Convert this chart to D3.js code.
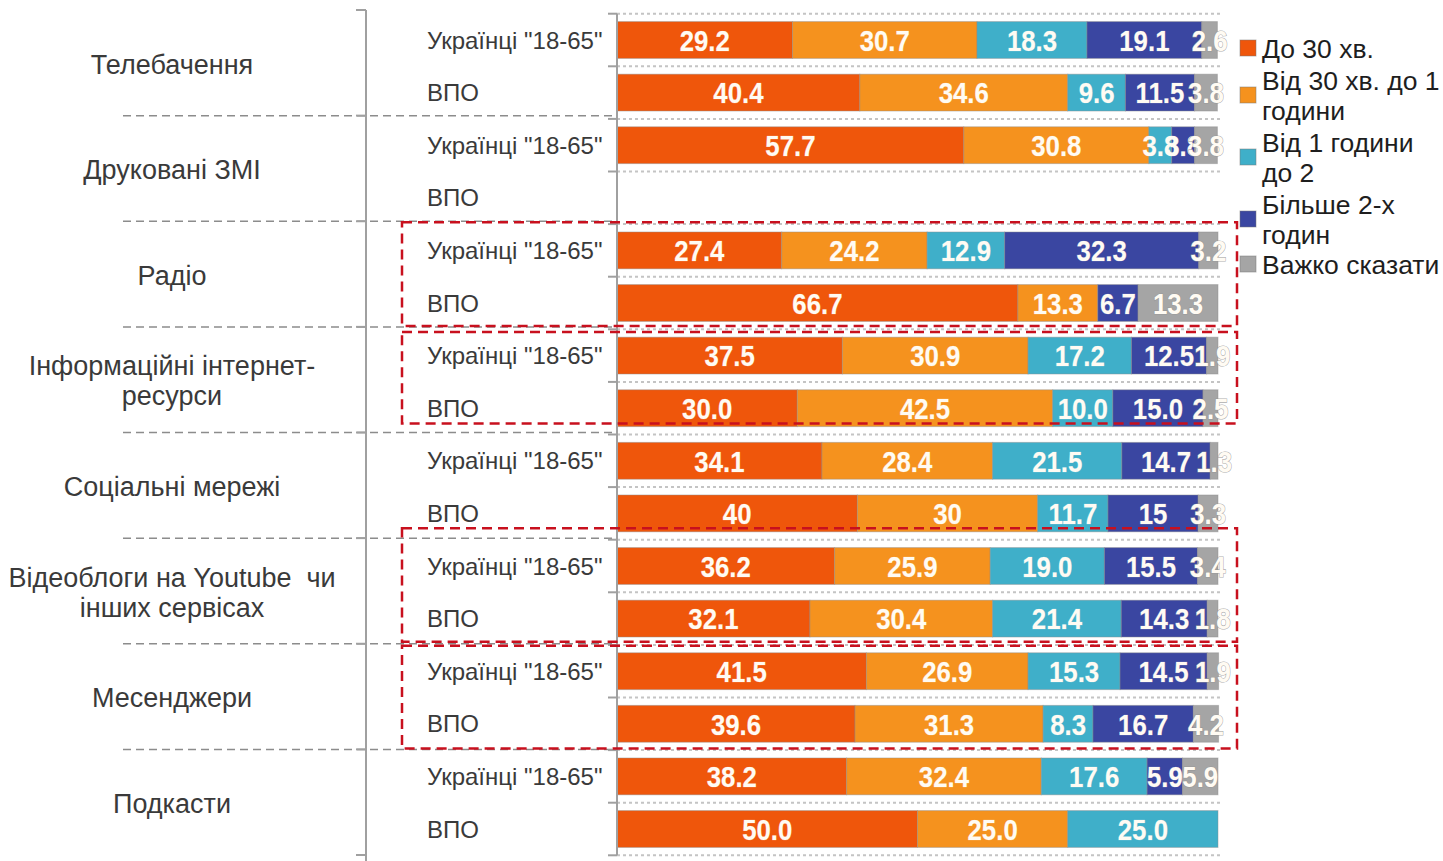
<!DOCTYPE html>
<html>
<head>
<meta charset="utf-8">
<script src="https://cdn.jsdelivr.net/npm/d3@7"></script>
<style>
  html, body { margin: 0; padding: 0; background: #fff; }
  svg { display: block; }
  .media-label { white-space: pre; }
</style>
</head>
<body>
<svg id="chart" width="1443" height="861"></svg>
<script>
// Media types (outer category level), with line breaks for wrapped names
const media = [
  ["Телебачення"],
  ["Друковані ЗМІ"],
  ["Радіо"],
  ["Інформаційні інтернет-", "ресурси"],
  ["Соціальні мережі"],
  ["Відеоблоги на Youtube  чи", "інших сервісах"],
  ["Месенджери"],
  ["Подкасти"]
];

// Respondent groups (inner category level)
const groups = ['Українці "18-65"', "ВПО"];

// Answer categories (stack series)
const answers = ["До 30 хв.", "Від 30 хв. до 1 години", "Від 1 години до 2", "Більше 2-х годин", "Важко сказати"];
const legendLines = [["До 30 хв."], ["Від 30 хв. до 1", "години"], ["Від 1 години", "до 2"], ["Більше 2-х", "годин"], ["Важко сказати"]];
const colors = ["#EF560B", "#F5921E", "#3FAFC9", "#3A46A1", "#A5A5A5"];

// Shares, %, one row per media × group; empty string = no answer share
const tvUkr       = ["29.2", "30.7", "18.3", "19.1", "2.6"];
const tvIdp       = ["40.4", "34.6", "9.6", "11.5", "3.8"];
const printUkr    = ["57.7", "30.8", "3.8", "3.8", "3.8"];
const printIdp    = ["", "", "", "", ""];
const radioUkr    = ["27.4", "24.2", "12.9", "32.3", "3.2"];
const radioIdp    = ["66.7", "13.3", "", "6.7", "13.3"];
const webUkr      = ["37.5", "30.9", "17.2", "12.5", "1.9"];
const webIdp      = ["30.0", "42.5", "10.0", "15.0", "2.5"];
const socialUkr   = ["34.1", "28.4", "21.5", "14.7", "1.3"];
const socialIdp   = ["40", "30", "11.7", "15", "3.3"];
const videoUkr    = ["36.2", "25.9", "19.0", "15.5", "3.4"];
const videoIdp    = ["32.1", "30.4", "21.4", "14.3", "1.8"];
const msgUkr      = ["41.5", "26.9", "15.3", "14.5", "1.9"];
const msgIdp      = ["39.6", "31.3", "8.3", "16.7", "4.2"];
const podcastUkr  = ["38.2", "32.4", "17.6", "5.9", "5.9"];
const podcastIdp  = ["50.0", "25.0", "25.0", "", ""];

const shares = [
  [tvUkr, tvIdp], [printUkr, printIdp], [radioUkr, radioIdp], [webUkr, webIdp],
  [socialUkr, socialIdp], [videoUkr, videoIdp], [msgUkr, msgIdp], [podcastUkr, podcastIdp]
];

// Media blocks outlined with red dashed frames
const highlighted = [2, 3, 5, 6];

// ---- build rows ----
const rows = [];
media.forEach((m, mi) => {
  groups.forEach((g, gi) => {
    const labels = shares[mi][gi];
    const row = { id: mi + "-" + gi, media: mi, group: g, labels };
    answers.forEach((a, ai) => { row[ai] = labels[ai] === "" ? 0 : +labels[ai]; });
    rows.push(row);
  });
});

const svg = d3.select("#chart");

const x = d3.scaleLinear().domain([0, 100]).range([617, 1218]);
const y = d3.scaleBand().domain(rows.map(r => r.id)).range([13.7, 855.3]);
const yMedia = d3.scaleBand().domain(d3.range(media.length)).range([10, 855]);

const stack = d3.stack().keys(d3.range(answers.length));
const series = stack(rows);

// ---- light dotted gridlines between rows ----
const rowEdges = rows.map(r => y(r.id)).concat([y.range()[1]]);
svg.append("g").selectAll("line").data(rowEdges).join("line")
  .attr("x1", x(0)).attr("x2", x(100) + 2)
  .attr("y1", d => d).attr("y2", d => d)
  .attr("stroke", "#C4C4C4").attr("stroke-width", 2)
  .attr("stroke-dasharray", "3,3");

// ---- dashed separators between media blocks ----
const mediaEdges = d3.range(1, media.length).map(i => yMedia(i));
svg.append("g").selectAll("line").data(mediaEdges).join("line")
  .attr("x1", 123).attr("x2", x(0))
  .attr("y1", d => d).attr("y2", d => d)
  .attr("stroke", "#8C8C8C").attr("stroke-width", 1.5)
  .attr("stroke-dasharray", "8,5");

// ---- bars ----
const barPad = y.bandwidth() * 0.15;
const barH = y.bandwidth() * 0.7;
const layer = svg.append("g").selectAll("g").data(series).join("g")
  .attr("fill", (d, i) => colors[i]);
layer.selectAll("rect").data(d => d.filter(p => p[1] - p[0] > 0)).join("rect")
  .attr("x", d => x(d[0]))
  .attr("width", d => x(d[1]) - x(d[0]))
  .attr("y", d => y(d.data.id) + barPad)
  .attr("height", barH)
  .attr("stroke", "rgba(140,140,140,0.45)")
  .attr("stroke-width", 1);

// ---- value labels (bold, horizontally condensed) ----
const labelG = svg.append("g")
  .attr("font-family", "'Liberation Sans', Arial, sans-serif")
  .attr("font-weight", "bold")
  .attr("font-size", 30)
  .attr("text-anchor", "middle");
series.forEach((s, si) => {
  labelG.selectAll(null).data(s.filter(p => p[1] - p[0] > 0)).join("text")
    .attr("transform", d => `translate(${(x(d[0]) + x(d[1])) / 2},${y(d.data.id) + y.bandwidth() / 2}) scale(0.86,1)`)
    .attr("dy", "0.36em")
    .attr("fill", "#FFFBF3")
    .attr("stroke", si === 4 ? "rgba(150,150,150,0.8)" : "rgba(255,255,255,0.35)")
    .attr("stroke-width", si === 4 ? 1.2 : 0.6)
    .attr("paint-order", "stroke")
    .text(d => d.data.labels[si]);
});

// ---- inner axis (group level) ----
const innerAxis = svg.append("g").attr("stroke", "#A0A0A0").attr("stroke-width", 2);
innerAxis.append("line")
  .attr("x1", x(0)).attr("x2", x(0))
  .attr("y1", y.range()[0]).attr("y2", y.range()[1]);
innerAxis.selectAll("line.tick").data(rowEdges).join("line").attr("class", "tick")
  .attr("x1", x(0) - 9).attr("x2", x(0))
  .attr("y1", d => d).attr("y2", d => d);

svg.append("g").selectAll("text").data(rows).join("text")
  .attr("x", 427)
  .attr("y", d => y(d.id) + y.bandwidth() / 2)
  .attr("dy", "0.36em")
  .attr("font-family", "'Liberation Sans', Arial, sans-serif")
  .attr("font-size", 24)
  .attr("fill", "#3A3A3A")
  .text(d => d.group);

// ---- outer axis (media level) ----
const outerAxis = svg.append("g").attr("stroke", "#A0A0A0").attr("stroke-width", 2);
const outerEdges = d3.range(media.length).map(i => yMedia(i)).concat([yMedia.range()[1]]);
outerAxis.append("line")
  .attr("x1", 366).attr("x2", 366)
  .attr("y1", yMedia.range()[0]).attr("y2", 861);
outerAxis.selectAll("line.tick").data(outerEdges).join("line").attr("class", "tick")
  .attr("x1", 356).attr("x2", 366)
  .attr("y1", d => d).attr("y2", d => d);

const mediaLabels = svg.append("g")
  .attr("font-family", "'Liberation Sans', Arial, sans-serif")
  .attr("font-size", 27)
  .attr("fill", "#3A3A3A")
  .attr("text-anchor", "middle");
media.forEach((lines, i) => {
  const cy = yMedia(i) + yMedia.bandwidth() / 2 + 1;
  const t = mediaLabels.append("text").attr("class", "media-label").attr("x", 172)
    .attr("y", cy - (lines.length - 1) * 15);
  lines.forEach((ln, li) => {
    t.append("tspan").attr("x", 172).attr("dy", li === 0 ? "0.36em" : 30).text(ln);
  });
});

// ---- red dashed frames around selected media blocks ----
// per-frame [top, bottom] adjustment relative to the media band
const frameAdjust = { 2: [1, -1], 3: [5, -9], 5: [-10, -2], 6: [2, -1] };
svg.append("g").selectAll("rect").data(highlighted).join("rect")
  .attr("x", 402)
  .attr("y", d => yMedia(d) + frameAdjust[d][0])
  .attr("width", 1237 - 402)
  .attr("height", d => yMedia.bandwidth() - frameAdjust[d][0] + frameAdjust[d][1])
  .attr("fill", "none")
  .attr("stroke", "#C8101E")
  .attr("stroke-width", 2.5)
  .attr("stroke-dasharray", "10,6");

// ---- legend ----
const legend = svg.append("g")
  .attr("font-family", "'Liberation Sans', Arial, sans-serif")
  .attr("font-size", 26.5)
  .attr("fill", "#1E1E1E");
const legendTop = [48, 95, 157, 219, 264];
legendLines.forEach((lines, i) => {
  const g = legend.append("g");
  const cy = legendTop[i];
  g.append("rect").attr("x", 1240).attr("y", cy - 8).attr("width", 16).attr("height", 16)
    .attr("fill", colors[i]).attr("stroke", "rgba(120,120,120,0.5)");
  const t = g.append("text").attr("x", 1262).attr("y", cy - (lines.length - 1) * 15);
  lines.forEach((ln, li) => {
    t.append("tspan").attr("x", 1262).attr("dy", li === 0 ? "0.36em" : 30).text(ln);
  });
});
</script>
</body>
</html>
